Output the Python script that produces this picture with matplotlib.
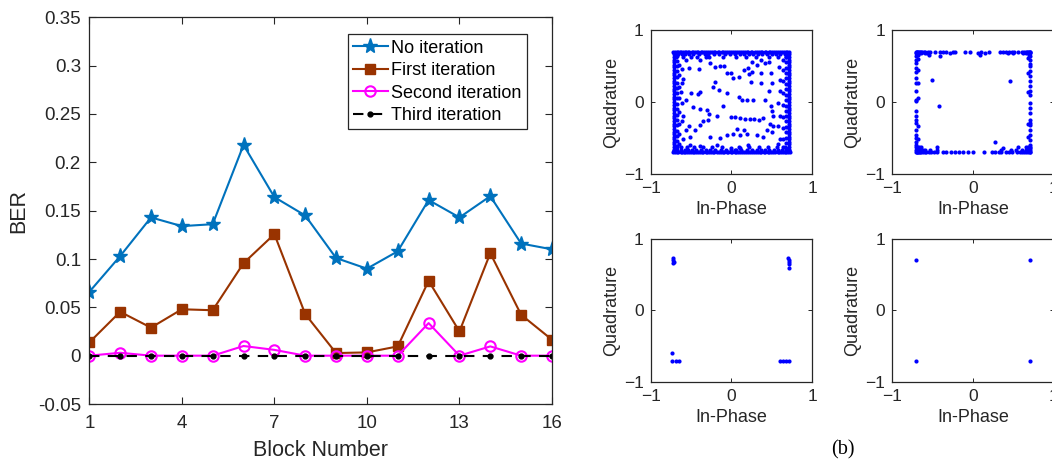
import matplotlib
matplotlib.use('Agg')
from matplotlib import pyplot as plt

plt.rcParams['font.family'] = ['Liberation Sans', 'DejaVu Sans']

# BER per block for each decoding pass
blocks = list(range(1, 17))
ber_none = [0.066, 0.103, 0.143, 0.134, 0.136, 0.218, 0.164, 0.145,
            0.101, 0.090, 0.108, 0.161, 0.143, 0.165, 0.116, 0.110]
ber_first = [0.0137, 0.0454, 0.029, 0.048, 0.047, 0.0957, 0.1257, 0.043,
             0.0027, 0.0034, 0.0096, 0.0774, 0.0251, 0.106, 0.0423, 0.0165]
ber_second = [0, 0.003, 0, 0, 0, 0.010, 0.006, 0,
              0, 0, 0, 0.0337, 0, 0.0096, 0, 0]
ber_third = [0] * 16

x_ticks = [1, 4, 7, 10, 13, 16]
y_ticks = [-0.05, 0, 0.05, 0.1, 0.15, 0.2, 0.25, 0.3, 0.35]
y_ticklabels = ['-0.05', '0', '0.05', '0.1', '0.15', '0.2', '0.25', '0.3', '0.35']

# received constellation, no iteration: rows along the edges + scattered points
p1_rows_h = [
    (0.70, [-0.72, -0.70, -0.68, -0.66, -0.64, -0.62, -0.60, -0.58, -0.56, -0.54, -0.52,
            -0.49, -0.47, -0.45, -0.43, -0.41, -0.38, -0.36, -0.34, -0.31, -0.29, -0.27,
            -0.24, -0.22, -0.20, -0.17, -0.15, -0.12, -0.10, -0.08, -0.05, -0.03, 0.00,
            0.02, 0.05, 0.07, 0.09, 0.12, 0.14, 0.17, 0.19, 0.21, 0.24, 0.26, 0.29, 0.31,
            0.34, 0.36, 0.38, 0.41, 0.43, 0.46, 0.48, 0.50, 0.53, 0.55, 0.58, 0.60, 0.62,
            0.65, 0.67, 0.69, 0.71]),
    (0.67, [-0.70, -0.66, -0.61, -0.57, -0.52, -0.47, -0.40, -0.33, -0.29, -0.22, -0.15,
            -0.08, -0.02, 0.04, 0.10, 0.16, 0.22, 0.27, 0.33, 0.38, 0.44, 0.50, 0.55,
            0.60, 0.66, 0.70]),
    (0.63, [-0.69, -0.60, -0.50, -0.43, -0.28, -0.11, 0.06, 0.18, 0.30, 0.47, 0.58, 0.68]),
    (-0.70, [-0.72, -0.70, -0.68, -0.66, -0.63, -0.61, -0.59, -0.57, -0.55, -0.52, -0.50,
             -0.48, -0.46, -0.44, -0.41, -0.39, -0.37, -0.35, -0.32, -0.30, -0.28, -0.25,
             -0.23, -0.21, -0.18, -0.16, -0.13, -0.11, -0.09, -0.06, -0.04, -0.01, 0.01,
             0.04, 0.06, 0.08, 0.11, 0.13, 0.16, 0.18, 0.20, 0.23, 0.25, 0.28, 0.30, 0.33,
             0.35, 0.37, 0.40, 0.42, 0.45, 0.47, 0.49, 0.52, 0.54, 0.57, 0.59, 0.61, 0.64,
             0.66, 0.68, 0.70, 0.72]),
    (-0.67, [-0.71, -0.67, -0.63, -0.58, -0.54, -0.49, -0.44, -0.38, -0.32, -0.26, -0.20,
             -0.13, -0.07, 0.00, 0.06, 0.12, 0.19, 0.25, 0.31, 0.36, 0.42, 0.47, 0.53,
             0.58, 0.63, 0.67, 0.71]),
    (-0.63, [-0.68, -0.62, -0.55, -0.46, -0.35, -0.24, -0.12, 0.09, 0.22, 0.34, 0.45, 0.56, 0.66]),
]
p1_rows_v = [
    (-0.71, [0.66, 0.62, 0.58, 0.55, 0.51, 0.48, 0.44, 0.40, 0.37, 0.33, 0.29, 0.26, 0.22,
             0.18, 0.15, 0.11, 0.07, 0.04, 0.00, -0.04, -0.08, -0.11, -0.15, -0.19, -0.22,
             -0.26, -0.30, -0.33, -0.37, -0.41, -0.44, -0.48, -0.52, -0.55, -0.59, -0.63, -0.66]),
    (-0.68, [0.64, 0.57, 0.50, 0.43, 0.35, 0.27, 0.20, 0.12, 0.05, -0.03, -0.10, -0.18,
             -0.25, -0.32, -0.40, -0.47, -0.54, -0.61]),
    (-0.645, [0.52, 0.38, 0.21, 0.06, -0.14, -0.30, -0.45, -0.58]),
    (0.71, [0.66, 0.62, 0.58, 0.55, 0.51, 0.48, 0.44, 0.40, 0.37, 0.33, 0.29, 0.26, 0.22,
            0.18, 0.15, 0.11, 0.07, 0.04, 0.00, -0.04, -0.08, -0.11, -0.15, -0.19, -0.22,
            -0.26, -0.30, -0.33, -0.37, -0.41, -0.44, -0.48, -0.52, -0.55, -0.59, -0.63, -0.66]),
    (0.68, [0.62, 0.55, 0.47, 0.40, 0.33, 0.25, 0.18, 0.10, 0.03, -0.05, -0.12, -0.20,
            -0.27, -0.35, -0.42, -0.50, -0.57, -0.64]),
    (0.64, [0.58, 0.44, 0.29, 0.12, -0.04, -0.21, -0.36, -0.52, -0.62]),
]
p1_inner = [
    (-0.56, 0.59), (-0.53, 0.47), (-0.40, 0.46), (-0.39, 0.58), (-0.32, 0.62), (-0.26, 0.54),
    (-0.20, 0.49), (-0.14, 0.50), (-0.09, 0.50), (-0.06, 0.40), (0.00, 0.40), (0.02, 0.33),
    (0.09, 0.35), (0.15, 0.44), (0.21, 0.47), (0.25, 0.56), (0.31, 0.51), (0.37, 0.59),
    (0.41, 0.54), (0.46, 0.56), (0.49, 0.40), (0.37, 0.40), (0.26, 0.41), (0.22, 0.39),
    (0.24, 0.28), (0.36, 0.26), (0.50, 0.26), (-0.20, 0.28), (-0.23, 0.21), (-0.39, 0.14),
    (-0.41, 0.11), (-0.50, 0.13), (-0.56, 0.03), (-0.47, -0.07), (-0.39, -0.10), (-0.30, -0.11),
    (-0.28, -0.16), (-0.18, -0.20), (-0.29, -0.25), (-0.35, -0.27), (-0.39, -0.32), (-0.45, -0.39),
    (-0.52, -0.34), (-0.51, -0.48), (-0.60, -0.51), (-0.56, -0.39), (0.09, 0.07), (0.13, 0.03),
    (0.19, 0.03), (0.27, 0.03), (-0.10, -0.06), (0.00, -0.21), (0.04, -0.21), (0.11, -0.22),
    (0.17, -0.23), (0.23, -0.24), (0.28, -0.24), (0.07, -0.37), (0.15, -0.39), (0.02, -0.44),
    (0.11, -0.46), (0.19, -0.44), (0.31, -0.46), (0.39, -0.49), (0.44, -0.39), (0.50, -0.41),
    (0.52, -0.34), (0.48, -0.30), (0.50, -0.13), (0.52, -0.20), (0.39, -0.22), (0.34, -0.25),
    (-0.27, -0.48), (-0.14, -0.50), (-0.06, -0.46), (0.00, -0.64), (0.04, -0.66), (0.11, -0.64),
    (0.21, -0.60), (-0.18, -0.60), (-0.39, -0.61), (-0.51, -0.60), (0.41, 0.03), (0.49, -0.06),
    (0.46, 0.15), (-0.06, 0.13), (-0.16, 0.17), (-0.61, 0.46), (-0.60, 0.32), (-0.61, 0.26),
    (-0.62, 0.14), (-0.61, -0.01), (-0.60, -0.19), (-0.61, -0.27), (0.59, 0.49), (0.60, 0.31),
    (0.60, 0.15), (0.58, -0.02), (0.60, -0.20), (0.58, -0.33), (0.60, -0.51), (0.58, -0.58),
]

# after first iteration
p2_rows_h = [
    (0.70, [-0.71, -0.70, -0.69, -0.68, -0.67, -0.66, -0.65, -0.63, -0.61, -0.59, -0.56,
            -0.53, -0.47, -0.41, -0.37, -0.34, -0.25, -0.23, -0.10, -0.04, 0.10, 0.20,
            0.33, 0.37, 0.41, 0.44, 0.48, 0.51, 0.56, 0.60, 0.63, 0.65, 0.67, 0.68, 0.69,
            0.70, 0.71]),
    (0.68, [-0.71, -0.69, -0.67, -0.64, -0.60, -0.57, -0.28, 0.06, 0.15, 0.43, 0.50, 0.62,
            0.66, 0.69, 0.71]),
    (0.65, [-0.70, -0.68, -0.55, 0.69]),
    (-0.70, [-0.71, -0.70, -0.69, -0.68, -0.67, -0.66, -0.64, -0.62, -0.60, -0.58, -0.55,
             -0.52, -0.49, -0.45, -0.37, -0.33, -0.27, -0.23, -0.18, -0.12, -0.06, 0.00,
             0.13, 0.23, 0.27, 0.32, 0.35, 0.41, 0.45, 0.48, 0.54, 0.58, 0.60, 0.63, 0.66,
             0.68, 0.70, 0.71]),
    (-0.67, [-0.71, -0.69, -0.67, -0.65, -0.62, -0.59, -0.53, -0.45, 0.35, 0.47, 0.53,
             0.60, 0.65, 0.68, 0.71]),
    (-0.63, [-0.70, -0.67, -0.64, 0.56, 0.66, 0.70]),
]
p2_rows_v = [
    (-0.71, [0.64, 0.58, 0.54, 0.47, 0.41, 0.34, 0.27, 0.15, 0.03, 0.01, -0.13, -0.20,
             -0.25, -0.29, -0.39, -0.46, -0.50, -0.56, -0.60, -0.63]),
    (-0.68, [0.60, 0.45, 0.26, 0.05, -0.34, -0.52]),
    (0.71, [0.64, 0.59, 0.53, 0.50, 0.43, 0.36, 0.29, 0.22, 0.15, 0.10, -0.01, -0.08,
            -0.15, -0.25, -0.29, -0.32, -0.39, -0.46, -0.53, -0.60, -0.64]),
    (0.68, [0.61, 0.40, 0.14, -0.30, -0.49, -0.62]),
]
p2_inner = [(-0.51, 0.31), (-0.42, -0.05), (0.46, 0.29), (0.27, -0.55),
            (-0.41, 0.64), (0.09, 0.65), (-0.45, -0.62), (0.37, -0.64)]

# after second iteration
p3_points = [(-0.72, 0.73), (-0.72, 0.70), (-0.71, 0.68), (-0.72, 0.66),
             (0.70, 0.73), (0.71, 0.70), (0.71, 0.68), (0.71, 0.645), (0.71, 0.60),
             (-0.73, -0.60), (-0.73, -0.71), (-0.69, -0.71), (-0.65, -0.71),
             (0.60, -0.715), (0.64, -0.715), (0.68, -0.715), (0.71, -0.705)]

# after third iteration
p4_points = [(-0.707, 0.707), (0.707, 0.707), (-0.707, -0.707), (0.707, -0.707)]


def collect(rows_h, rows_v, extra):
    pts = list(extra)
    for q, xs in rows_h:
        pts += [(i, q) for i in xs]
    for i, qs in rows_v:
        pts += [(i, q) for q in qs]
    return [p[0] for p in pts], [p[1] for p in pts]


ink = '#262626'

fig = plt.figure(figsize=(10.52, 4.63), dpi=100)

ax = fig.add_axes([0.0849, 0.1274, 0.4398, 0.8352])
ax.plot(blocks, ber_none, '-*', color='#0072BD', lw=1.5, ms=11, label='No iteration')
ax.plot(blocks, ber_first, '-s', color='#993300', lw=1.5, ms=7, label='First iteration')
ax.plot(blocks, ber_second, '-o', color='#FF00FF', lw=1.5, ms=7.5, mfc='none', mew=1.5,
        label='Second iteration')
ax.plot(blocks, ber_third, '--.', color='black', lw=1.5, ms=7, dashes=(5, 4),
        label='Third iteration')
ax.set_xlim(1, 16)
ax.set_ylim(-0.05, 0.35)
ax.set_xticks(x_ticks)
ax.set_yticks(y_ticks)
ax.set_yticklabels(y_ticklabels)
ax.tick_params(direction='in', top=True, right=True, length=5, width=0.8,
               labelsize=13.5, colors=ink)
ax.tick_params(axis='x', pad=8)
ax.tick_params(axis='y', pad=6)
for s in ax.spines.values():
    s.set_color(ink)
    s.set_linewidth(0.9)
ax.set_xlabel('Block Number', fontsize=15.5, color=ink, labelpad=6)
ax.set_ylabel('BER', fontsize=15.5, color=ink, labelpad=6)
leg = ax.legend(loc='upper right', bbox_to_anchor=(0.946, 0.956), fontsize=13,
                handlelength=1.9, handletextpad=0.2, labelspacing=0.3, borderpad=0.3,
                borderaxespad=0, fancybox=False, framealpha=1)
leg.get_frame().set_edgecolor(ink)
leg.get_frame().set_linewidth(0.9)

panels = [
    ([0.6185, 0.6242, 0.1536, 0.311], collect(p1_rows_h, p1_rows_v, p1_inner)),
    ([0.8482, 0.6242, 0.1536, 0.311], collect(p2_rows_h, p2_rows_v, p2_inner)),
    ([0.6185, 0.1756, 0.1536, 0.3082], ([p[0] for p in p3_points], [p[1] for p in p3_points])),
    ([0.8482, 0.1756, 0.1536, 0.3082], ([p[0] for p in p4_points], [p[1] for p in p4_points])),
]
for rect, (i_vals, q_vals) in panels:
    a = fig.add_axes(rect)
    a.plot(i_vals, q_vals, '.', color='#0000FF', ms=6, mew=0)
    a.set_xlim(-1, 1)
    a.set_ylim(-1, 1)
    a.set_xticks([-1, 0, 1])
    a.set_yticks([-1, 0, 1])
    a.tick_params(direction='in', top=True, right=True, length=3, width=0.7,
                  labelsize=12.5, colors=ink, pad=5)
    for s in a.spines.values():
        s.set_color(ink)
        s.set_linewidth(0.9)
    a.set_xlabel('In-Phase', fontsize=13, color=ink, labelpad=4)
    a.set_ylabel('Quadrature', fontsize=13, color=ink, labelpad=3)

fig.text(843 / 1052, 1 - 450 / 463, '(b)', family='Liberation Serif', fontsize=14.5,
         ha='center', va='center', color='black')

fig.savefig('out.png', dpi=100)
